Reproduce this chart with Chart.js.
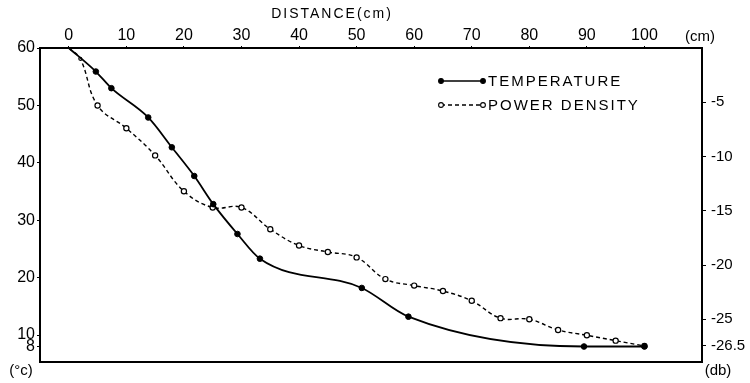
<!DOCTYPE html>
<html>
<head>
<meta charset="utf-8">
<script src="https://cdn.jsdelivr.net/npm/chart.js@4.4.1/dist/chart.umd.min.js"></script>
<style>
  html, body { margin: 0; background: #fff; }
</style>
</head>
<body>
<canvas id="chart" width="750" height="383"></canvas>
<script>
    // tick labels
    const distanceTicks = [0, 10, 20, 30, 40, 50, 60, 70, 80, 90, 100];
    const tempTicks = [60, 50, 40, 30, 20, 10, 8];
    const dbTicks = [-5, -10, -15, -20, -25, -26.5];

    // temperature (deg C) vs distance (cm)
    const tempDistance = [0, 4.7, 7.4, 13.8, 17.9, 21.8, 25.1, 29.3, 33.2, 50.9, 59.0, 89.5, 100];
    const temperature = [60, 55.9, 53.0, 47.9, 42.7, 37.7, 32.8, 27.6, 23.3, 18.2, 13.2, 8, 8];

    // power density (db) vs distance (cm)
    const powerDistance = [0, 2, 5, 10, 15, 20, 25, 30, 35, 40, 45, 50, 55, 60, 65, 70, 75, 80, 85, 90, 95, 100];
    const powerDensity = [0, -1.0, -5.3, -7.4, -9.9, -13.2, -14.7, -14.7, -16.7, -18.2, -18.8, -19.3,
                          -21.3, -21.9, -22.4, -23.3, -24.9, -25.0, -25.6, -25.9, -26.2, -26.5];

    // the db axis of the original is stretched below -25 so that -26.5 lines up with 8 deg C
    const DB_BREAK = -25;
    const DB_STRETCH = 1.643;

    class DbScale extends Chart.LinearScale {
      getPixelForValue(value) {
        if (value < DB_BREAK) value = DB_BREAK + (value - DB_BREAK) * DB_STRETCH;
        return super.getPixelForValue(value);
      }
    }
    DbScale.id = 'dbScale';
    DbScale.defaults = Chart.LinearScale.defaults;
    Chart.register(DbScale);

    const FONT = "'Liberation Sans', Arial, sans-serif";
    Chart.defaults.color = '#000';
    Chart.defaults.font.family = FONT;

    const toPoints = (xs, ys) => xs.map((x, i) => ({ x, y: ys[i] }));

    const extraText = {
      id: 'extraText',
      afterDraw(chart) {
        const ctx = chart.ctx;
        ctx.save();
        ctx.fillStyle = '#000';
        ctx.strokeStyle = '#000';
        ctx.textBaseline = 'middle';

        ctx.font = `14px ${FONT}`;
        ctx.letterSpacing = '2px';
        ctx.textAlign = 'center';
        ctx.fillText('DISTANCE(cm)', 332, 14);
        ctx.letterSpacing = '0px';
        ctx.font = `15px ${FONT}`;
        ctx.fillText('(cm)', 700, 37);
        ctx.fillText('(°c)', 21, 371);
        ctx.fillText('(db)', 718, 371);

        // legend
        const items = [
          { ds: chart.data.datasets[0], y: 81 },
          { ds: chart.data.datasets[1], y: 105 }
        ];
        items.forEach(({ ds, y }) => {
          ctx.lineWidth = 1.4;
          ctx.setLineDash(ds.borderDash || []);
          ctx.beginPath();
          ctx.moveTo(441, y);
          ctx.lineTo(483, y);
          ctx.stroke();
          ctx.setLineDash([]);
          [441, 483].forEach(px => {
            ctx.beginPath();
            ctx.arc(px, y, 2.4, 0, Math.PI * 2);
            ctx.fillStyle = ds.pointBackgroundColor;
            ctx.fill();
            ctx.lineWidth = 1.1;
            ctx.stroke();
          });
          ctx.fillStyle = '#000';
          ctx.textAlign = 'left';
          ctx.font = `15px ${FONT}`;
          ctx.letterSpacing = '2px';
          ctx.fillText(ds.label, 488, y + 1);
          ctx.letterSpacing = '0px';
        });
        ctx.restore();
      }
    };

    const axisLine = { color: '#000', width: 2 };
    const smallTicks = { display: true, drawOnChartArea: false, drawTicks: true, tickLength: 3, color: '#000' };

    new Chart(document.getElementById('chart'), {
      type: 'line',
      data: {
        datasets: [
          {
            label: 'TEMPERATURE',
            data: toPoints(tempDistance, temperature),
            xAxisID: 'x',
            yAxisID: 'y',
            borderColor: '#000',
            borderWidth: 1.8,
            cubicInterpolationMode: 'monotone',
            pointRadius: temperature.map((_, i) => i === 0 ? 0 : 2.8),
            pointBackgroundColor: '#000',
            pointBorderColor: '#000',
            pointBorderWidth: 1
          },
          {
            label: 'POWER DENSITY',
            data: toPoints(powerDistance, powerDensity),
            xAxisID: 'x',
            yAxisID: 'yDb',
            borderColor: '#000',
            borderWidth: 1.4,
            borderDash: [4, 3],
            tension: 0.4,
            pointRadius: powerDensity.map((_, i) => i === 0 ? 0 : (i === 1 ? 1.5 : 2.6)),
            pointBackgroundColor: '#fff',
            pointBorderColor: '#000',
            pointBorderWidth: 1.2
          }
        ]
      },
      options: {
        responsive: false,
        animation: false,
        layout: { padding: 0 },
        plugins: {
          legend: { display: false },
          tooltip: { enabled: false }
        },
        scales: {
          x: {
            type: 'linear',
            position: 'top',
            min: -5,
            max: 110,
            afterBuildTicks: s => { s.ticks = distanceTicks.map(v => ({ value: v })); },
            afterFit: s => { s.height = 48; },
            ticks: { font: { size: 16 }, padding: 1, maxRotation: 0, autoSkip: false },
            grid: { ...smallTicks, tickLength: 2 },
            border: axisLine
          },
          xb: {
            type: 'linear',
            position: 'bottom',
            min: 0,
            max: 1,
            afterFit: s => { s.height = 21; },
            ticks: { display: false },
            grid: { display: false },
            border: axisLine
          },
          y: {
            type: 'linear',
            position: 'left',
            min: 5.3,
            max: 60,
            afterBuildTicks: s => { s.ticks = tempTicks.map(v => ({ value: v })); },
            afterFit: s => { s.width = 40; },
            ticks: { font: { size: 16 }, padding: 2, autoSkip: false },
            grid: smallTicks,
            border: axisLine
          },
          yDb: {
            type: 'dbScale',
            position: 'right',
            min: -28.94,
            max: 0,
            afterBuildTicks: s => { s.ticks = dbTicks.map(v => ({ value: v })); },
            afterFit: s => { s.width = 48; },
            ticks: { font: { size: 15 }, padding: 5, autoSkip: false, callback: v => String(v) },
            grid: { ...smallTicks, tickLength: 4 },
            border: axisLine
          }
        }
      },
      plugins: [extraText]
    });
</script>
</body>
</html>
